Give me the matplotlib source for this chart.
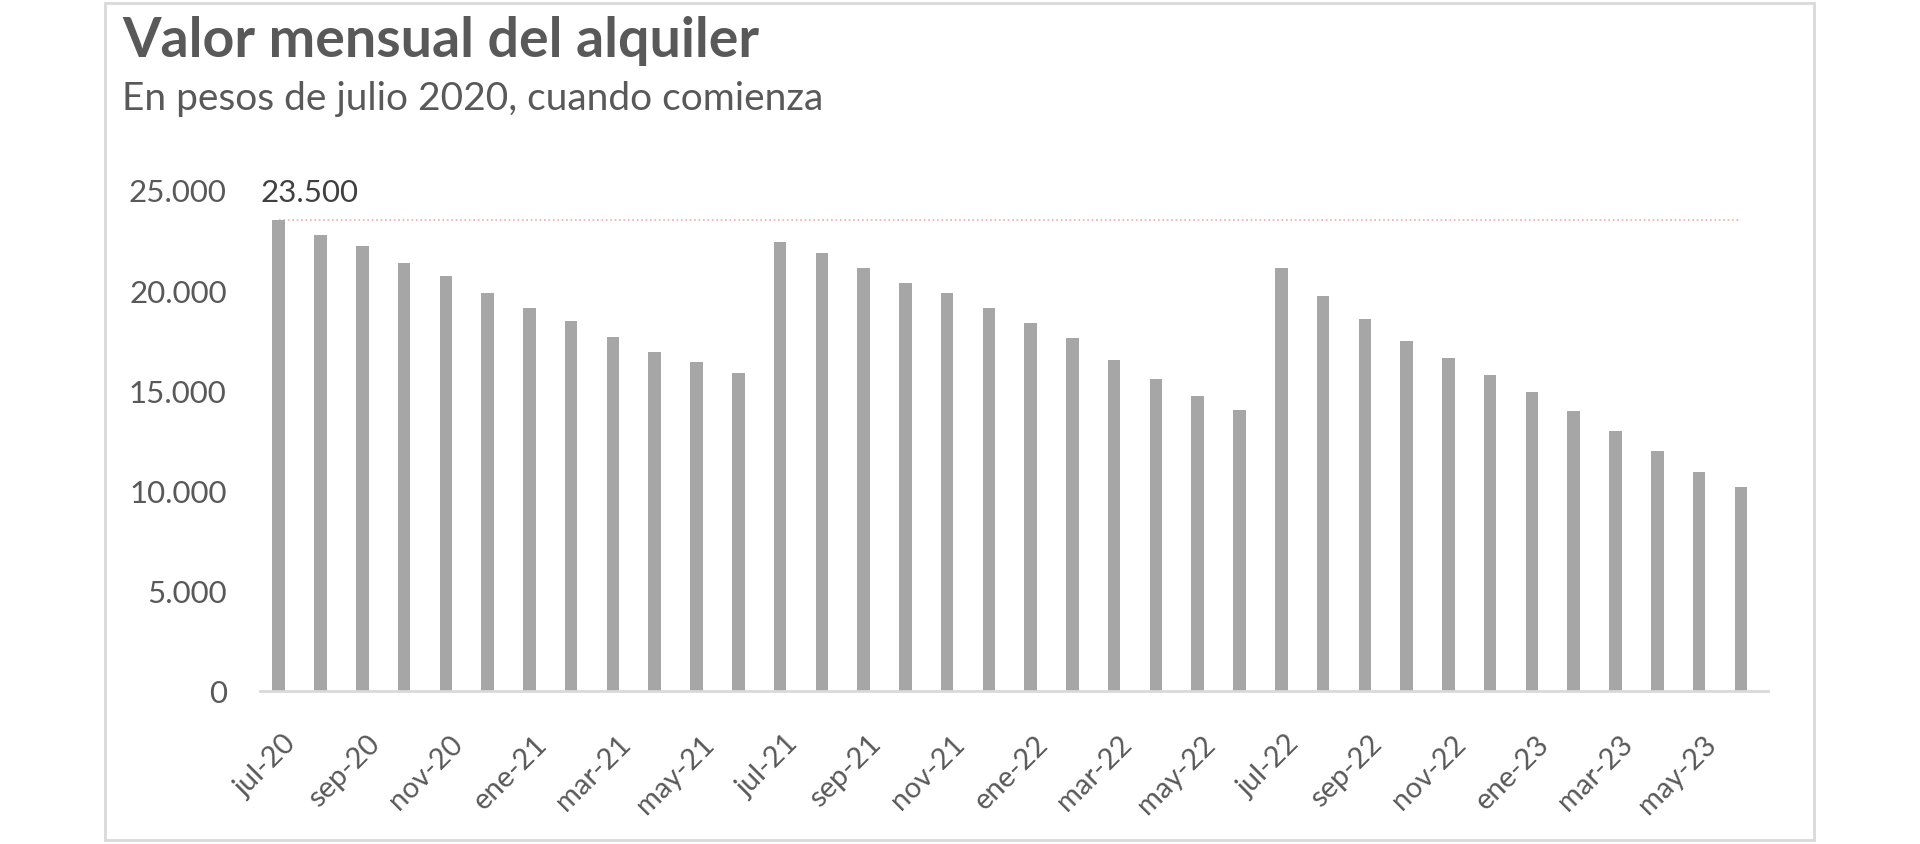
import matplotlib.pyplot as plt
import matplotlib.transforms as mtransforms
from matplotlib.patches import Rectangle

plt.rcParams['font.family'] = ['Lato', 'DejaVu Sans']

meses = ['jul-20', 'ago-20', 'sep-20', 'oct-20', 'nov-20', 'dic-20',
         'ene-21', 'feb-21', 'mar-21', 'abr-21', 'may-21', 'jun-21',
         'jul-21', 'ago-21', 'sep-21', 'oct-21', 'nov-21', 'dic-21',
         'ene-22', 'feb-22', 'mar-22', 'abr-22', 'may-22', 'jun-22',
         'jul-22', 'ago-22', 'sep-22', 'oct-22', 'nov-22', 'dic-22',
         'ene-23', 'feb-23', 'mar-23', 'abr-23', 'may-23', 'jun-23']

# valor del alquiler en pesos de julio 2020
valores = [23500, 22770, 22200, 21370, 20720, 19880,
           19130, 18480, 17650, 16890, 16420, 15870,
           22400, 21840, 21090, 20340, 19880, 19130,
           18380, 17630, 16520, 15570, 14720, 14030,
           21090, 19690, 18580, 17450, 16600, 15770,
           14920, 13990, 12980, 11950, 10920, 10170]

inicial = 23500
yticks = [0, 5000, 10000, 15000, 20000, 25000]
ytick_labels = ['0', '5.000', '10.000', '15.000', '20.000', '25.000']

gris_texto = '#595959'

fig = plt.figure(figsize=(19.2, 8.45), dpi=100)
ax = fig.add_axes([0.1354, 0.1811, 0.7854, 0.5929])

x = list(range(len(meses)))
ax.bar(x, valores, width=0.30, color='#A6A6A6', zorder=2)

# linea de referencia al valor inicial
ax.plot([0, len(meses) - 1], [inicial, inicial], linestyle=':', color='#F2ACA3',
        linewidth=1.2, zorder=1)
ax.annotate('23.500', xy=(0, valores[0]), xytext=(-18, 28), textcoords='offset pixels',
            ha='left', va='center', fontsize=22.5, color='#404040')

ax.set_xlim(-0.45, len(meses) - 0.35)
ax.set_ylim(0, 25000)
ax.set_yticks(yticks)
ax.set_yticklabels(ytick_labels)
ax.set_xticks(x[::2])
ax.set_xticklabels(meses[::2], rotation=45, ha='right', va='top', rotation_mode='anchor')

ax.tick_params(axis='y', length=0, pad=24, labelsize=22.5, labelcolor=gris_texto)
ax.tick_params(axis='x', length=0, pad=28, labelsize=21, labelcolor=gris_texto)

desplazar = mtransforms.ScaledTranslation(4 / 100, 0, fig.dpi_scale_trans)
for etiqueta in ax.get_xticklabels():
    etiqueta.set_transform(etiqueta.get_transform() + desplazar)

for lado in ['top', 'right', 'left']:
    ax.spines[lado].set_visible(False)
ax.spines['bottom'].set_color('#D9D9D9')
ax.spines['bottom'].set_linewidth(2)
ax.spines['bottom'].set_zorder(3)

fig.text(122 / 1920, 0.932, 'Valor mensual del alquiler', fontsize=40, fontweight='bold',
         color=gris_texto, va='baseline', ha='left')
fig.text(122 / 1920, 0.870, 'En pesos de julio 2020, cuando comienza', fontsize=28,
         color=gris_texto, va='baseline', ha='left')

# marco del grafico
fig.patches.append(Rectangle((105 / 1920, 4 / 845), (1814 - 105) / 1920, (841 - 4) / 845,
                             transform=fig.transFigure, fill=False, edgecolor='#D9D9D9',
                             linewidth=2))

fig.savefig('out.png', dpi=100)
